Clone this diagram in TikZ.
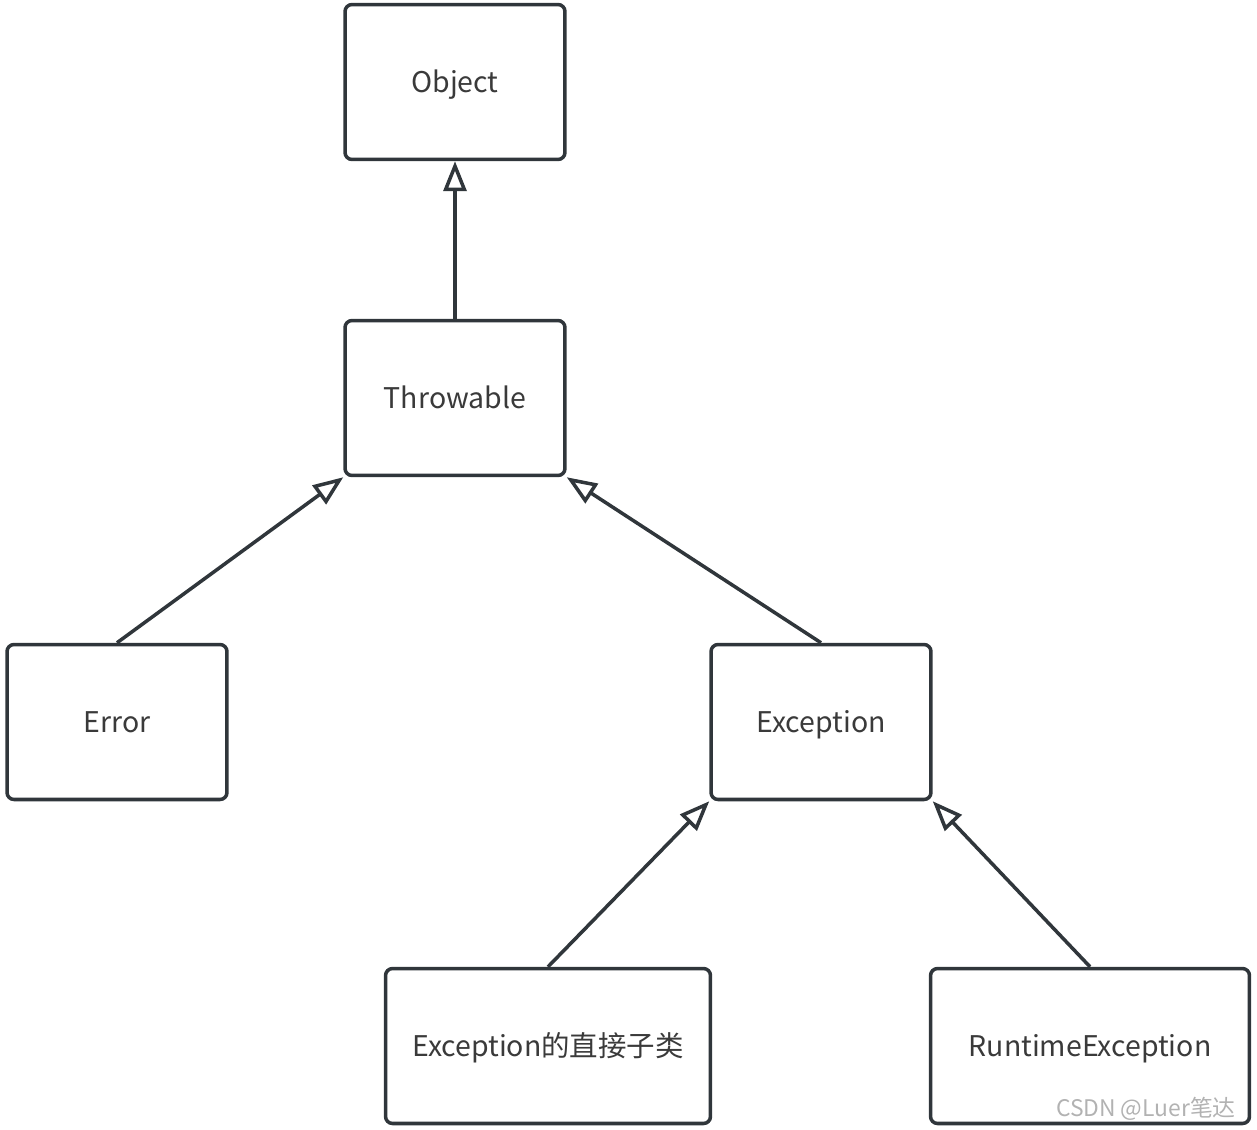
\documentclass[tikz,border=0pt]{standalone}
\usepackage{fontspec}
\setmainfont{Noto Sans CJK SC}
\usetikzlibrary{arrows.meta,positioning}
\definecolor{linegray}{HTML}{30363B}
\definecolor{textgray}{HTML}{3A3A3A}

\begin{document}
\begin{tikzpicture}[x=0.02cm,y=-0.02cm,
	cls/.style={draw=linegray,line width=2pt,rounded corners=4pt,minimum width=4.4cm,minimum height=3.1cm,text=textgray,font=\fontsize{16.2}{19}\selectfont,text height=2.2ex,text depth=0ex},
	inherit/.style={draw=linegray,line width=2pt,-{Triangle[open,length=0.6cm,width=0.46cm,fill=white]}}]
	\useasboundingbox (0,0) rectangle (1257,1129);
	\node[cls] (obj) at (455,82)  {Object};
	\node[cls] (thr) at (455,398) {Throwable};
	\node[cls] (err) at (117,722) {Error};
	\node[cls] (exc) at (821,722) {Exception};
	\node[cls,minimum width=6.5cm] (sub) at (548,1046) {Exception的直接子类};
	\node[cls,minimum width=6.38cm] (rte) at (1090,1046) {RuntimeException};
	\draw[inherit] (thr.north)--(obj.south);
	\draw[inherit] (err.north)--(thr.south west);
	\draw[inherit] (exc.north)--(thr.south east);
	\draw[inherit] (sub.north)--(exc.south west);
	\draw[inherit] (rte.north)--(exc.south east);
	\node[anchor=east,text=gray!60,font=\fontsize{13}{15}\selectfont] (wm) at (1242,1109) {CSDN @Luer笔达};
\end{tikzpicture}
\end{document}
